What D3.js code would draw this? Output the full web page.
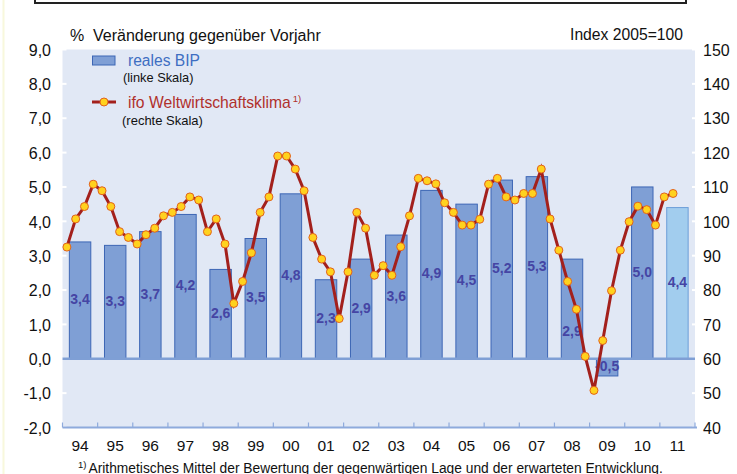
<!DOCTYPE html>
<html>
<head>
<meta charset="utf-8">
<script src="https://cdn.jsdelivr.net/npm/d3@7"></script>
<style>
  html, body { margin: 0; padding: 0; background: #ffffff; }
  svg { display: block; font-family: "Liberation Sans", Arial, sans-serif; }
</style>
</head>
<body>
<svg id="chart" width="737" height="474"></svg>
<script>
// ---------- DATA ----------
const years = ["94","95","96","97","98","99","00","01","02","03","04","05","06","07","08","09","10","11"];
const gdpValues = [3.4,3.3,3.7,4.2,2.6,3.5,4.8,2.3,2.9,3.6,4.9,4.5,5.2,5.3,2.9,-0.5,5.0,4.4];
const gdpLabels = ["3,4","3,3","3,7","4,2","2,6","3,5","4,8","2,3","2,9","3,6","4,9","4,5","5,2","5,3","2,9","-0,5","5,0","4,4"];
// ifo world economic climate, quarterly from 1994 Q1 to 2011 Q2 (index 2005=100)
const ifoValues = [
  92.5,100.7,104.3,110.8,
  108.9,104.3,97.0,95.3,
  93.4,96.1,98.0,101.6,
  102.6,104.3,107.1,106.2,
  97.0,100.7,93.4,76.1,
  82.5,90.8,102.6,107.1,
  119.0,119.0,115.2,108.9,
  95.3,89.0,85.3,71.7,
  85.3,102.6,98.0,84.3,
  87.1,84.3,92.6,101.6,
  112.5,111.8,110.9,105.4,
  102.6,98.9,98.9,100.6,
  110.8,112.5,107.1,106.2,
  108.1,108.1,115.2,100.7,
  91.6,82.5,74.4,60.7,
  50.8,65.3,79.8,91.6,
  99.9,104.4,103.4,98.9,
  107.1,108.1
];
const leftTicks = [9,8,7,6,5,4,3,2,1,0,-1,-2];
const leftTickLabels = ["9,0","8,0","7,0","6,0","5,0","4,0","3,0","2,0","1,0","0,0","-1,0","-2,0"];
const rightTicks = [150,140,130,120,110,100,90,80,70,60,50,40];
const firstYear = 1994;

// ---------- LAYOUT ----------
const svg = d3.select("#chart");
const plot = { left: 62.5, right: 695, top: 49.5, bottom: 427.5 };

const x = d3.scaleBand().domain(years).range([plot.left, plot.right])
  .paddingInner(0.39).paddingOuter(0.195);
const xt = d3.scaleLinear().domain([firstYear, firstYear + years.length]).range([plot.left, plot.right]);
const yL = d3.scaleLinear().domain([-2, 9]).range([plot.bottom, plot.top]);
const yR = d3.scaleLinear().domain([40, 150]).range([plot.bottom, plot.top]);

// page decorations
svg.append("line").attr("x1", 3.5).attr("x2", 3.5).attr("y1", 0).attr("y2", 474)
  .attr("stroke", "#f8f8dc").attr("stroke-width", 2);
svg.append("rect").attr("x", 35).attr("y", -40).attr("width", 651).attr("height", 43)
  .attr("fill", "none").attr("stroke", "#222").attr("stroke-width", 2);

// plot background
svg.append("rect").attr("x", plot.left).attr("y", plot.top)
  .attr("width", plot.right - plot.left).attr("height", plot.bottom - plot.top)
  .attr("fill", "#e1e8f5");

// axis ticks (white marks at plot edges)
svg.append("g").selectAll("line").data(leftTicks).join("line")
  .attr("x1", plot.left - 1).attr("x2", plot.left + 4)
  .attr("y1", d => yL(d)).attr("y2", d => yL(d))
  .attr("stroke", "#ffffff").attr("stroke-width", 2);
svg.append("g").selectAll("line").data(rightTicks).join("line")
  .attr("x1", plot.right - 3).attr("x2", plot.right + 1)
  .attr("y1", d => yR(d)).attr("y2", d => yR(d))
  .attr("stroke", "#ffffff").attr("stroke-width", 2);

// left tick labels
svg.append("g").selectAll("text").data(leftTicks).join("text")
  .attr("x", 51).attr("y", d => yL(d) + 2)
  .attr("text-anchor", "end").attr("dominant-baseline", "middle")
  .attr("font-size", 16).attr("fill", "#111")
  .text((d, i) => leftTickLabels[i]);
// right tick labels
svg.append("g").selectAll("text").data(rightTicks).join("text")
  .attr("x", 703).attr("y", d => yR(d) + 2)
  .attr("text-anchor", "start").attr("dominant-baseline", "middle")
  .attr("font-size", 16).attr("fill", "#111")
  .text(d => d);

// bottom axis
const xAxisG = svg.append("g");
xAxisG.append("line").attr("x1", plot.left).attr("x2", plot.right + 2)
  .attr("y1", plot.bottom).attr("y2", plot.bottom)
  .attr("stroke", "#8eaadc").attr("stroke-width", 2);
const boundaries = d3.range(years.length + 1).map(i => xt(firstYear + i));
xAxisG.selectAll("line.tk").data(boundaries).join("line").attr("class", "tk")
  .attr("x1", d => d).attr("x2", d => d)
  .attr("y1", plot.bottom).attr("y2", plot.bottom - 5)
  .attr("stroke", "#8eaadc").attr("stroke-width", 1.2);
xAxisG.selectAll("text").data(years).join("text")
  .attr("x", d => x(d) + x.bandwidth() / 2).attr("y", 447)
  .attr("text-anchor", "middle").attr("dominant-baseline", "middle")
  .attr("font-size", 15.5).attr("fill", "#111")
  .text(d => d);

// bars
const lastYear = years[years.length - 1];
svg.append("g").selectAll("rect").data(years).join("rect")
  .attr("x", d => x(d)).attr("width", x.bandwidth())
  .attr("y", (d, i) => yL(Math.max(0, gdpValues[i])))
  .attr("height", (d, i) => Math.abs(yL(gdpValues[i]) - yL(0)))
  .attr("fill", d => d === lastYear ? "#a2cdee" : "#7f9fd5")
  .attr("stroke", d => d === lastYear ? "#6d9ed8" : "#3d66b5")
  .attr("stroke-width", 1);

// zero line
svg.append("line").attr("x1", plot.left).attr("x2", plot.right)
  .attr("y1", yL(0)).attr("y2", yL(0))
  .attr("stroke", "#7f9fd5").attr("stroke-width", 2.5);

// bar labels (centered in bar; 08 moved down to avoid the line)
const labelShift = { "08": 23 };
svg.append("g").selectAll("text").data(years).join("text")
  .attr("x", d => x(d) + x.bandwidth() / 2)
  .attr("y", (d, i) => (yL(gdpValues[i]) + yL(0)) / 2 + (labelShift[d] || 0))
  .attr("text-anchor", "middle").attr("dominant-baseline", "middle")
  .attr("font-size", 14).attr("font-weight", "bold").attr("fill", "#4545a4")
  .text((d, i) => gdpLabels[i]);

// ifo line
const ifoPts = ifoValues.map((v, i) => ({
  x: xt(firstYear + Math.floor(i / 4) + ((i % 4) + 0.5) / 4),
  y: yR(v)
}));
svg.append("path").datum(ifoPts)
  .attr("d", d3.line().x(d => d.x).y(d => d.y))
  .attr("fill", "none").attr("stroke", "#a3201c").attr("stroke-width", 3)
  .attr("stroke-linejoin", "miter");
svg.append("g").selectAll("circle").data(ifoPts).join("circle")
  .attr("cx", d => d.x).attr("cy", d => d.y).attr("r", 4)
  .attr("fill", "#ffd21e").attr("stroke", "#e2621c").attr("stroke-width", 1);

// header texts
svg.append("text").attr("x", 70).attr("y", 40.5).attr("font-size", 16).attr("fill", "#111").text("%");
svg.append("text").attr("x", 93).attr("y", 40.5).attr("font-size", 16).attr("fill", "#111")
  .text("Veränderung gegenüber Vorjahr");
svg.append("text").attr("x", 683).attr("y", 40).attr("font-size", 15.7).attr("fill", "#111")
  .attr("text-anchor", "end").text("Index 2005=100");

// legend
const lg = svg.append("g");
lg.append("rect").attr("x", 92.5).attr("y", 56).attr("width", 22.5).attr("height", 9)
  .attr("fill", "#7f9fd5").attr("stroke", "#3d66b5").attr("stroke-width", 1);
lg.append("text").attr("x", 128).attr("y", 66).attr("font-size", 15.6).attr("fill", "#3e6ec2").text("reales BIP");
lg.append("text").attr("x", 123).attr("y", 82).attr("font-size", 12.8).attr("fill", "#111").text("(linke Skala)");
lg.append("line").attr("x1", 92).attr("x2", 116).attr("y1", 102).attr("y2", 102)
  .attr("stroke", "#a3201c").attr("stroke-width", 3);
lg.append("circle").attr("cx", 104).attr("cy", 102).attr("r", 4)
  .attr("fill", "#ffd21e").attr("stroke", "#e2621c").attr("stroke-width", 1);
const ifoLegend = lg.append("text").attr("x", 128).attr("y", 108).attr("font-size", 15.7).attr("fill", "#b0302c");
ifoLegend.append("tspan").text("ifo Weltwirtschaftsklima");
ifoLegend.append("tspan").attr("dx", 2).attr("dy", -6).attr("font-size", 9.5).text("1)");
lg.append("text").attr("x", 122).attr("y", 125).attr("font-size", 13).attr("fill", "#111").text("(rechte Skala)");

// footnote
const fn = svg.append("text").attr("x", 78).attr("y", 472.5).attr("font-size", 13.8).attr("fill", "#111");
fn.append("tspan").attr("font-size", 9.5).attr("dy", -5).text("1)");
fn.append("tspan").attr("dx", 2).attr("dy", 5).text("Arithmetisches Mittel der Bewertung der gegenwärtigen Lage und der erwarteten Entwicklung.");
</script>
</body>
</html>
